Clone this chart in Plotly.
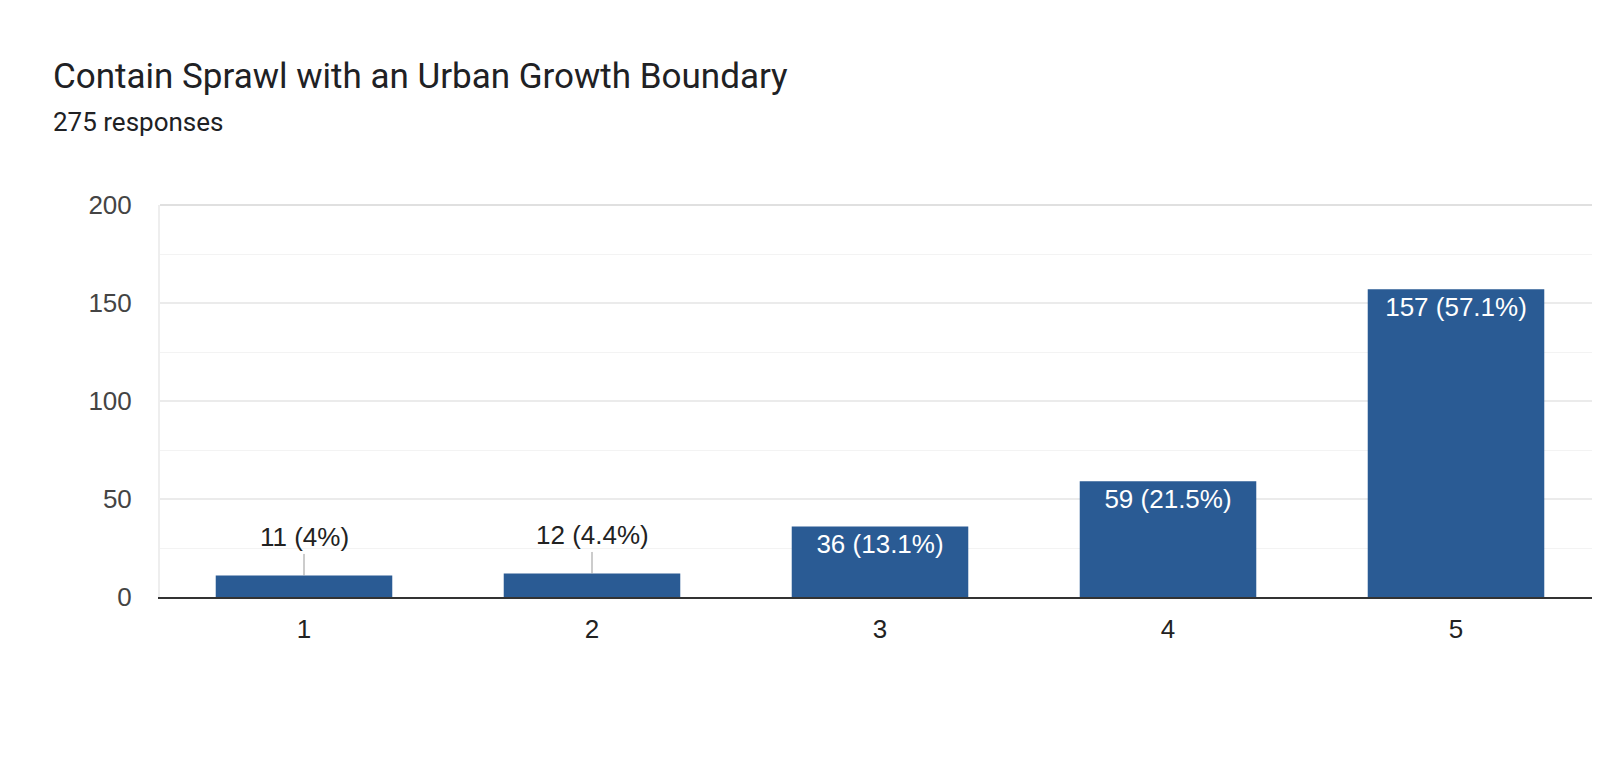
import plotly.graph_objects as go

categories = ["1", "2", "3", "4", "5"]
counts = [11, 12, 36, 59, 157]
percents = ["4%", "4.4%", "13.1%", "21.5%", "57.1%"]
title_text = "Contain Sprawl with an Urban Growth Boundary"
subtitle_text = "275 responses"

BAR = "#2a5b94"
labels = [f"{c} ({p})" for c, p in zip(counts, percents)]
inside_thresh = 25
inside_text = [l if c >= inside_thresh else "" for l, c in zip(labels, counts)]

fig = go.Figure()
fig.add_trace(go.Bar(
    x=categories, y=counts, marker=dict(color=BAR, line=dict(width=0)),
    width=0.613, text=inside_text, textposition="inside", insidetextanchor="end",
    textfont=dict(family="Arial, Liberation Sans", size=26, color="white"),
    textangle=0, cliponaxis=False, hoverinfo="skip",
))

annotations = []
for i, (c, l) in enumerate(zip(counts, labels)):
    if c < inside_thresh:
        annotations.append(dict(
            x=i, y=c, xref="x", yref="y", text=l, showarrow=True,
            arrowhead=0, arrowwidth=1, arrowcolor="#999999", ax=0, ay=-38,
            font=dict(family="Arial, Liberation Sans", size=26, color="#222222"),
        ))

annotations.append(dict(
    xref="paper", yref="paper", x=-0.0757, y=1.328, xanchor="left", yanchor="middle",
    text=title_text, showarrow=False,
    font=dict(family="Roboto", size=35, color="#202124"),
))
annotations.append(dict(
    xref="paper", yref="paper", x=-0.0757, y=1.211, xanchor="left", yanchor="middle",
    text=subtitle_text, showarrow=False,
    font=dict(family="Roboto", size=26, color="#202124"),
))

fig.update_layout(
    width=1614, height=759,
    margin=dict(l=152, r=22, t=197, b=170),
    plot_bgcolor="white", paper_bgcolor="white",
    showlegend=False, annotations=annotations,
    shapes=[dict(type="line", xref="paper", yref="paper", x0=0, x1=1, y0=1, y1=1,
                 line=dict(color="#e0e0e0", width=2))],
)
fig.update_xaxes(
    type="category",
    showgrid=False, showline=True, linecolor="#333333", linewidth=2,
    tickfont=dict(family="Arial, Liberation Sans", size=26, color="#222222"),
    ticks="", ticklabelstandoff=8, zeroline=False,
)
fig.update_yaxes(
    range=[0, 200], tickvals=[0, 50, 100, 150, 200],
    showgrid=True, gridcolor="#ebebeb", gridwidth=2,
    minor=dict(tickvals=[25, 75, 125, 175], showgrid=True, gridcolor="#f3f3f3", gridwidth=1),
    showline=True, mirror=True, linecolor="#eeeeee", linewidth=2,
    zeroline=False, ticks="", ticklabelstandoff=21,
    tickfont=dict(family="Arial, Liberation Sans", size=26, color="#444444"),
)

fig.write_html("out.html")
